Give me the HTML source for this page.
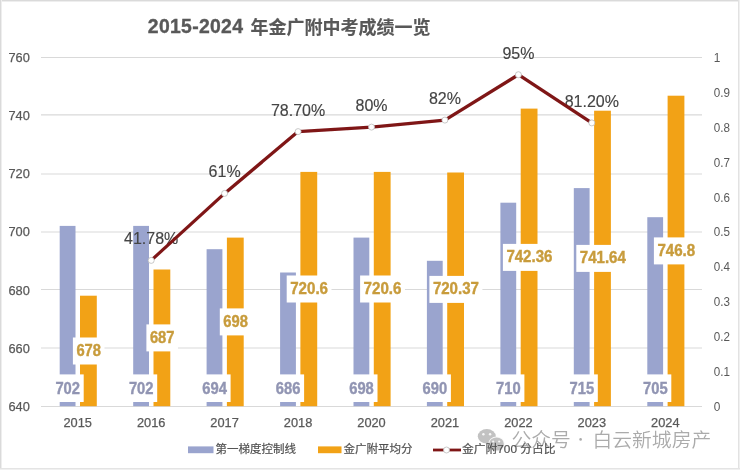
<!DOCTYPE html>
<html><head><meta charset="utf-8"><style>
html,body{margin:0;padding:0;background:#fff;width:740px;height:470px;overflow:hidden}
svg{display:block}
</style></head><body>
<svg width="740" height="470" viewBox="0 0 740 470">
<rect x="0" y="0" width="740" height="470" fill="#fff"/>
<rect x="0" y="0" width="740" height="1" fill="#DADADA"/><rect x="0" y="1" width="740" height="1" fill="#EEEEEE"/>
<rect x="0" y="0" width="1" height="470" fill="#DADADA"/><rect x="1" y="0" width="1" height="470" fill="#EEEEEE"/>
<rect x="738" y="0" width="1" height="470" fill="#E2E2E2"/><rect x="739" y="0" width="1" height="470" fill="#F0F0F0"/>
<rect x="0" y="468" width="740" height="1" fill="#E4E4E4"/><rect x="0" y="469" width="740" height="1" fill="#F0F0F0"/>
<defs><filter id="sf" x="0" y="0" width="740" height="470" filterUnits="userSpaceOnUse"><feGaussianBlur stdDeviation="0.4"/></filter></defs>
<g filter="url(#sf)">
<text font-family='"Liberation Sans", "Noto Sans CJK SC", sans-serif' font-weight="bold" fill="#595959" stroke="#595959"><tspan x="147.8" y="33.4" font-size="19.4" letter-spacing="0.3" stroke-width="0.35">2015-2024</tspan><tspan x="250.4" y="34.2" font-size="18" stroke-width="0.15">年金广附中考成绩一览</tspan></text>
<line x1="41.0" y1="406.5" x2="702.0" y2="406.5" stroke="#D9D9D9" stroke-width="1.1"/>
<line x1="41.0" y1="348.0" x2="702.0" y2="348.0" stroke="#D9D9D9" stroke-width="1.1"/>
<line x1="41.0" y1="289.5" x2="702.0" y2="289.5" stroke="#D9D9D9" stroke-width="1.1"/>
<line x1="41.0" y1="232.0" x2="702.0" y2="232.0" stroke="#D9D9D9" stroke-width="1.1"/>
<line x1="41.0" y1="174.0" x2="702.0" y2="174.0" stroke="#D9D9D9" stroke-width="1.1"/>
<line x1="41.0" y1="114.9" x2="702.0" y2="114.9" stroke="#D9D9D9" stroke-width="1.1"/>
<line x1="41.0" y1="57.5" x2="702.0" y2="57.5" stroke="#D9D9D9" stroke-width="1.1"/>
<text x="29.8" y="410.8" text-anchor="end" font-family='"Liberation Sans", "Noto Sans CJK SC", sans-serif' font-size="12.8" fill="#595959" stroke="#595959" stroke-width="0.25">640</text>
<text x="29.8" y="352.7" text-anchor="end" font-family='"Liberation Sans", "Noto Sans CJK SC", sans-serif' font-size="12.8" fill="#595959" stroke="#595959" stroke-width="0.25">660</text>
<text x="29.8" y="294.5" text-anchor="end" font-family='"Liberation Sans", "Noto Sans CJK SC", sans-serif' font-size="12.8" fill="#595959" stroke="#595959" stroke-width="0.25">680</text>
<text x="29.8" y="236.3" text-anchor="end" font-family='"Liberation Sans", "Noto Sans CJK SC", sans-serif' font-size="12.8" fill="#595959" stroke="#595959" stroke-width="0.25">700</text>
<text x="29.8" y="178.2" text-anchor="end" font-family='"Liberation Sans", "Noto Sans CJK SC", sans-serif' font-size="12.8" fill="#595959" stroke="#595959" stroke-width="0.25">720</text>
<text x="29.8" y="120.0" text-anchor="end" font-family='"Liberation Sans", "Noto Sans CJK SC", sans-serif' font-size="12.8" fill="#595959" stroke="#595959" stroke-width="0.25">740</text>
<text x="29.8" y="61.9" text-anchor="end" font-family='"Liberation Sans", "Noto Sans CJK SC", sans-serif' font-size="12.8" fill="#595959" stroke="#595959" stroke-width="0.25">760</text>
<text x="713.8" y="410.8" textLength="6.6" lengthAdjust="spacingAndGlyphs" font-family='"Liberation Sans", "Noto Sans CJK SC", sans-serif' font-size="12.8" fill="#595959">0</text>
<text x="713.8" y="375.9" textLength="16.2" lengthAdjust="spacingAndGlyphs" font-family='"Liberation Sans", "Noto Sans CJK SC", sans-serif' font-size="12.8" fill="#595959">0.1</text>
<text x="713.8" y="341.0" textLength="16.2" lengthAdjust="spacingAndGlyphs" font-family='"Liberation Sans", "Noto Sans CJK SC", sans-serif' font-size="12.8" fill="#595959">0.2</text>
<text x="713.8" y="306.1" textLength="16.2" lengthAdjust="spacingAndGlyphs" font-family='"Liberation Sans", "Noto Sans CJK SC", sans-serif' font-size="12.8" fill="#595959">0.3</text>
<text x="713.8" y="271.2" textLength="16.2" lengthAdjust="spacingAndGlyphs" font-family='"Liberation Sans", "Noto Sans CJK SC", sans-serif' font-size="12.8" fill="#595959">0.4</text>
<text x="713.8" y="236.3" textLength="16.2" lengthAdjust="spacingAndGlyphs" font-family='"Liberation Sans", "Noto Sans CJK SC", sans-serif' font-size="12.8" fill="#595959">0.5</text>
<text x="713.8" y="201.5" textLength="16.2" lengthAdjust="spacingAndGlyphs" font-family='"Liberation Sans", "Noto Sans CJK SC", sans-serif' font-size="12.8" fill="#595959">0.6</text>
<text x="713.8" y="166.6" textLength="16.2" lengthAdjust="spacingAndGlyphs" font-family='"Liberation Sans", "Noto Sans CJK SC", sans-serif' font-size="12.8" fill="#595959">0.7</text>
<text x="713.8" y="131.7" textLength="16.2" lengthAdjust="spacingAndGlyphs" font-family='"Liberation Sans", "Noto Sans CJK SC", sans-serif' font-size="12.8" fill="#595959">0.8</text>
<text x="713.8" y="96.8" textLength="16.2" lengthAdjust="spacingAndGlyphs" font-family='"Liberation Sans", "Noto Sans CJK SC", sans-serif' font-size="12.8" fill="#595959">0.9</text>
<text x="713.8" y="61.9" textLength="6.6" lengthAdjust="spacingAndGlyphs" font-family='"Liberation Sans", "Noto Sans CJK SC", sans-serif' font-size="12.8" fill="#595959">1</text>
<text x="77.7" y="427.2" text-anchor="middle" font-family='"Liberation Sans", "Noto Sans CJK SC", sans-serif' font-size="12.8" fill="#595959" stroke="#595959" stroke-width="0.25">2015</text>
<text x="151.2" y="427.2" text-anchor="middle" font-family='"Liberation Sans", "Noto Sans CJK SC", sans-serif' font-size="12.8" fill="#595959" stroke="#595959" stroke-width="0.25">2016</text>
<text x="224.6" y="427.2" text-anchor="middle" font-family='"Liberation Sans", "Noto Sans CJK SC", sans-serif' font-size="12.8" fill="#595959" stroke="#595959" stroke-width="0.25">2017</text>
<text x="298.1" y="427.2" text-anchor="middle" font-family='"Liberation Sans", "Noto Sans CJK SC", sans-serif' font-size="12.8" fill="#595959" stroke="#595959" stroke-width="0.25">2018</text>
<text x="371.5" y="427.2" text-anchor="middle" font-family='"Liberation Sans", "Noto Sans CJK SC", sans-serif' font-size="12.8" fill="#595959" stroke="#595959" stroke-width="0.25">2020</text>
<text x="444.9" y="427.2" text-anchor="middle" font-family='"Liberation Sans", "Noto Sans CJK SC", sans-serif' font-size="12.8" fill="#595959" stroke="#595959" stroke-width="0.25">2021</text>
<text x="518.4" y="427.2" text-anchor="middle" font-family='"Liberation Sans", "Noto Sans CJK SC", sans-serif' font-size="12.8" fill="#595959" stroke="#595959" stroke-width="0.25">2022</text>
<text x="591.8" y="427.2" text-anchor="middle" font-family='"Liberation Sans", "Noto Sans CJK SC", sans-serif' font-size="12.8" fill="#595959" stroke="#595959" stroke-width="0.25">2023</text>
<text x="665.3" y="427.2" text-anchor="middle" font-family='"Liberation Sans", "Noto Sans CJK SC", sans-serif' font-size="12.8" fill="#595959" stroke="#595959" stroke-width="0.25">2024</text>
<rect x="59.7" y="225.9" width="15.8" height="180.3" fill="#9AA4CE"/>
<rect x="80.0" y="295.7" width="16.8" height="110.5" fill="#F2A216"/>
<rect x="133.2" y="225.9" width="15.8" height="180.3" fill="#9AA4CE"/>
<rect x="153.5" y="269.5" width="16.8" height="136.7" fill="#F2A216"/>
<rect x="206.6" y="249.2" width="15.8" height="157.0" fill="#9AA4CE"/>
<rect x="226.9" y="237.6" width="16.8" height="168.6" fill="#F2A216"/>
<rect x="280.1" y="272.5" width="15.8" height="133.7" fill="#9AA4CE"/>
<rect x="300.4" y="171.9" width="16.8" height="234.3" fill="#F2A216"/>
<rect x="353.5" y="237.6" width="15.8" height="168.6" fill="#9AA4CE"/>
<rect x="373.8" y="171.9" width="16.8" height="234.3" fill="#F2A216"/>
<rect x="426.9" y="260.8" width="15.8" height="145.4" fill="#9AA4CE"/>
<rect x="447.2" y="172.5" width="16.8" height="233.7" fill="#F2A216"/>
<rect x="500.4" y="202.7" width="15.8" height="203.5" fill="#9AA4CE"/>
<rect x="520.7" y="108.6" width="16.8" height="297.6" fill="#F2A216"/>
<rect x="573.8" y="188.1" width="15.8" height="218.1" fill="#9AA4CE"/>
<rect x="594.1" y="110.7" width="16.8" height="295.5" fill="#F2A216"/>
<rect x="647.3" y="217.2" width="15.8" height="189.0" fill="#9AA4CE"/>
<rect x="667.6" y="95.7" width="16.8" height="310.5" fill="#F2A216"/>
<rect x="51.7" y="374.4" width="32.0" height="27.6" fill="#fff"/>
<text x="55.4" y="394.3" textLength="24.6" lengthAdjust="spacingAndGlyphs" font-family='"Liberation Sans", "Noto Sans CJK SC", sans-serif' font-size="16" font-weight="bold" fill="#9195B3" stroke="#9195B3" stroke-width="0.4">702</text>
<rect x="125.2" y="374.4" width="32.0" height="27.6" fill="#fff"/>
<text x="128.9" y="394.3" textLength="24.6" lengthAdjust="spacingAndGlyphs" font-family='"Liberation Sans", "Noto Sans CJK SC", sans-serif' font-size="16" font-weight="bold" fill="#9195B3" stroke="#9195B3" stroke-width="0.4">702</text>
<rect x="198.6" y="374.4" width="32.0" height="27.6" fill="#fff"/>
<text x="202.3" y="394.3" textLength="24.6" lengthAdjust="spacingAndGlyphs" font-family='"Liberation Sans", "Noto Sans CJK SC", sans-serif' font-size="16" font-weight="bold" fill="#9195B3" stroke="#9195B3" stroke-width="0.4">694</text>
<rect x="272.1" y="374.4" width="32.0" height="27.6" fill="#fff"/>
<text x="275.8" y="394.3" textLength="24.6" lengthAdjust="spacingAndGlyphs" font-family='"Liberation Sans", "Noto Sans CJK SC", sans-serif' font-size="16" font-weight="bold" fill="#9195B3" stroke="#9195B3" stroke-width="0.4">686</text>
<rect x="345.5" y="374.4" width="32.0" height="27.6" fill="#fff"/>
<text x="349.2" y="394.3" textLength="24.6" lengthAdjust="spacingAndGlyphs" font-family='"Liberation Sans", "Noto Sans CJK SC", sans-serif' font-size="16" font-weight="bold" fill="#9195B3" stroke="#9195B3" stroke-width="0.4">698</text>
<rect x="418.9" y="374.4" width="32.0" height="27.6" fill="#fff"/>
<text x="422.6" y="394.3" textLength="24.6" lengthAdjust="spacingAndGlyphs" font-family='"Liberation Sans", "Noto Sans CJK SC", sans-serif' font-size="16" font-weight="bold" fill="#9195B3" stroke="#9195B3" stroke-width="0.4">690</text>
<rect x="492.4" y="374.4" width="32.0" height="27.6" fill="#fff"/>
<text x="496.1" y="394.3" textLength="24.6" lengthAdjust="spacingAndGlyphs" font-family='"Liberation Sans", "Noto Sans CJK SC", sans-serif' font-size="16" font-weight="bold" fill="#9195B3" stroke="#9195B3" stroke-width="0.4">710</text>
<rect x="565.8" y="374.4" width="32.0" height="27.6" fill="#fff"/>
<text x="569.5" y="394.3" textLength="24.6" lengthAdjust="spacingAndGlyphs" font-family='"Liberation Sans", "Noto Sans CJK SC", sans-serif' font-size="16" font-weight="bold" fill="#9195B3" stroke="#9195B3" stroke-width="0.4">715</text>
<rect x="639.3" y="374.4" width="32.0" height="27.6" fill="#fff"/>
<text x="643.0" y="394.3" textLength="24.6" lengthAdjust="spacingAndGlyphs" font-family='"Liberation Sans", "Noto Sans CJK SC", sans-serif' font-size="16" font-weight="bold" fill="#9195B3" stroke="#9195B3" stroke-width="0.4">705</text>
<rect x="72.9" y="337.5" width="31.6" height="27" fill="#fff"/>
<text x="76.4" y="356.0" textLength="24.6" lengthAdjust="spacingAndGlyphs" font-family='"Liberation Sans", "Noto Sans CJK SC", sans-serif' font-size="16" font-weight="bold" fill="#C89C3C" stroke="#C89C3C" stroke-width="0.4">678</text>
<rect x="146.4" y="324.4" width="31.6" height="27" fill="#fff"/>
<text x="149.9" y="342.9" textLength="24.6" lengthAdjust="spacingAndGlyphs" font-family='"Liberation Sans", "Noto Sans CJK SC", sans-serif' font-size="16" font-weight="bold" fill="#C89C3C" stroke="#C89C3C" stroke-width="0.4">687</text>
<rect x="219.8" y="308.4" width="31.6" height="27" fill="#fff"/>
<text x="223.3" y="326.9" textLength="24.6" lengthAdjust="spacingAndGlyphs" font-family='"Liberation Sans", "Noto Sans CJK SC", sans-serif' font-size="16" font-weight="bold" fill="#C89C3C" stroke="#C89C3C" stroke-width="0.4">698</text>
<rect x="286.7" y="275.5" width="44.8" height="27" fill="#fff"/>
<text x="290.2" y="294.0" textLength="37.8" lengthAdjust="spacingAndGlyphs" font-family='"Liberation Sans", "Noto Sans CJK SC", sans-serif' font-size="16" font-weight="bold" fill="#C89C3C" stroke="#C89C3C" stroke-width="0.4">720.6</text>
<rect x="360.1" y="275.5" width="44.8" height="27" fill="#fff"/>
<text x="363.6" y="294.0" textLength="37.8" lengthAdjust="spacingAndGlyphs" font-family='"Liberation Sans", "Noto Sans CJK SC", sans-serif' font-size="16" font-weight="bold" fill="#C89C3C" stroke="#C89C3C" stroke-width="0.4">720.6</text>
<rect x="429.4" y="275.9" width="53.0" height="27" fill="#fff"/>
<text x="432.9" y="294.4" textLength="46.0" lengthAdjust="spacingAndGlyphs" font-family='"Liberation Sans", "Noto Sans CJK SC", sans-serif' font-size="16" font-weight="bold" fill="#C89C3C" stroke="#C89C3C" stroke-width="0.4">720.37</text>
<rect x="502.9" y="243.9" width="53.0" height="27" fill="#fff"/>
<text x="506.4" y="262.4" textLength="46.0" lengthAdjust="spacingAndGlyphs" font-family='"Liberation Sans", "Noto Sans CJK SC", sans-serif' font-size="16" font-weight="bold" fill="#C89C3C" stroke="#C89C3C" stroke-width="0.4">742.36</text>
<rect x="576.3" y="244.9" width="53.0" height="27" fill="#fff"/>
<text x="579.8" y="263.4" textLength="46.0" lengthAdjust="spacingAndGlyphs" font-family='"Liberation Sans", "Noto Sans CJK SC", sans-serif' font-size="16" font-weight="bold" fill="#C89C3C" stroke="#C89C3C" stroke-width="0.4">741.64</text>
<rect x="653.9" y="237.4" width="44.8" height="27" fill="#fff"/>
<text x="657.4" y="255.9" textLength="37.8" lengthAdjust="spacingAndGlyphs" font-family='"Liberation Sans", "Noto Sans CJK SC", sans-serif' font-size="16" font-weight="bold" fill="#C89C3C" stroke="#C89C3C" stroke-width="0.4">746.8</text>
<text x="151.2" y="244.3" text-anchor="middle" font-family='"Liberation Sans", "Noto Sans CJK SC", sans-serif' font-size="16" fill="#444444" stroke="#444444" stroke-width="0.15">41.78%</text>
<text x="224.6" y="177.3" text-anchor="middle" font-family='"Liberation Sans", "Noto Sans CJK SC", sans-serif' font-size="16" fill="#444444" stroke="#444444" stroke-width="0.15">61%</text>
<text x="298.1" y="115.5" text-anchor="middle" font-family='"Liberation Sans", "Noto Sans CJK SC", sans-serif' font-size="16" fill="#444444" stroke="#444444" stroke-width="0.15">78.70%</text>
<text x="371.5" y="111.0" text-anchor="middle" font-family='"Liberation Sans", "Noto Sans CJK SC", sans-serif' font-size="16" fill="#444444" stroke="#444444" stroke-width="0.15">80%</text>
<text x="444.9" y="104.0" text-anchor="middle" font-family='"Liberation Sans", "Noto Sans CJK SC", sans-serif' font-size="16" fill="#444444" stroke="#444444" stroke-width="0.15">82%</text>
<text x="518.4" y="58.6" text-anchor="middle" font-family='"Liberation Sans", "Noto Sans CJK SC", sans-serif' font-size="16" fill="#444444" stroke="#444444" stroke-width="0.15">95%</text>
<text x="591.8" y="106.8" text-anchor="middle" font-family='"Liberation Sans", "Noto Sans CJK SC", sans-serif' font-size="16" fill="#444444" stroke="#444444" stroke-width="0.15">81.20%</text>
<polyline points="151.2,260.4 224.6,193.4 298.1,131.6 371.5,127.1 444.9,120.1 518.4,74.7 591.8,122.9" fill="none" stroke="#7F1618" stroke-width="3.3" stroke-linejoin="round"/>
<circle cx="151.2" cy="260.4" r="3" fill="#fff" stroke="#BBBBBB" stroke-width="0.8"/>
<circle cx="224.6" cy="193.4" r="3" fill="#fff" stroke="#BBBBBB" stroke-width="0.8"/>
<circle cx="298.1" cy="131.6" r="3" fill="#fff" stroke="#BBBBBB" stroke-width="0.8"/>
<circle cx="371.5" cy="127.1" r="3" fill="#fff" stroke="#BBBBBB" stroke-width="0.8"/>
<circle cx="444.9" cy="120.1" r="3" fill="#fff" stroke="#BBBBBB" stroke-width="0.8"/>
<circle cx="518.4" cy="74.7" r="3" fill="#fff" stroke="#BBBBBB" stroke-width="0.8"/>
<circle cx="591.8" cy="122.9" r="3" fill="#fff" stroke="#BBBBBB" stroke-width="0.8"/>
<g opacity="0.7"><ellipse cx="486.8" cy="436.3" rx="9" ry="7.2" fill="#A8A8A8"/><circle cx="483.4" cy="434.3" r="1.2" fill="#F4F4F4"/><circle cx="490.1" cy="434.3" r="1.2" fill="#F4F4F4"/><ellipse cx="496.5" cy="444" rx="8.3" ry="7.4" fill="#F4F4F4"/><ellipse cx="496.5" cy="444" rx="7.4" ry="6.6" fill="#A8A8A8"/><circle cx="493.2" cy="441.5" r="1.1" fill="#F4F4F4"/><circle cx="499.2" cy="441.5" r="1.1" fill="#F4F4F4"/></g>
<text x="511.5" y="447.2" font-family='"Noto Sans CJK SC", sans-serif' font-size="19.8" font-weight="350" fill="#ABABAB">公众号</text>
<circle cx="580.6" cy="439.4" r="1.3" fill="#ABABAB"/>
<text x="592.5" y="447.2" font-family='"Noto Sans CJK SC", sans-serif' font-size="19.8" font-weight="350" fill="#ABABAB">白云新城房产</text>
<rect x="188" y="446.4" width="25.5" height="6.8" fill="#9AA4CE"/>
<text x="215.5" y="453.2" font-family='"Liberation Sans", "Noto Sans CJK SC", sans-serif' font-size="11.5" fill="#505050" stroke="#505050" stroke-width="0.2">第一梯度控制线</text>
<rect x="318" y="446.4" width="23.5" height="6.8" fill="#F2A216"/>
<text x="343.5" y="453.2" font-family='"Liberation Sans", "Noto Sans CJK SC", sans-serif' font-size="11.5" fill="#505050" stroke="#505050" stroke-width="0.2">金广附平均分</text>
<line x1="433" y1="450" x2="461" y2="450" stroke="#7F1618" stroke-width="2.8"/>
<circle cx="446.5" cy="450" r="3" fill="#fff" stroke="#BBBBBB" stroke-width="0.8"/>
<text x="462" y="453.2" textLength="93.5" lengthAdjust="spacingAndGlyphs" font-family='"Liberation Sans", "Noto Sans CJK SC", sans-serif' font-size="11.5" fill="#505050" stroke="#505050" stroke-width="0.2">金广附700 分占比</text>
</g>
</svg>
</body></html>
